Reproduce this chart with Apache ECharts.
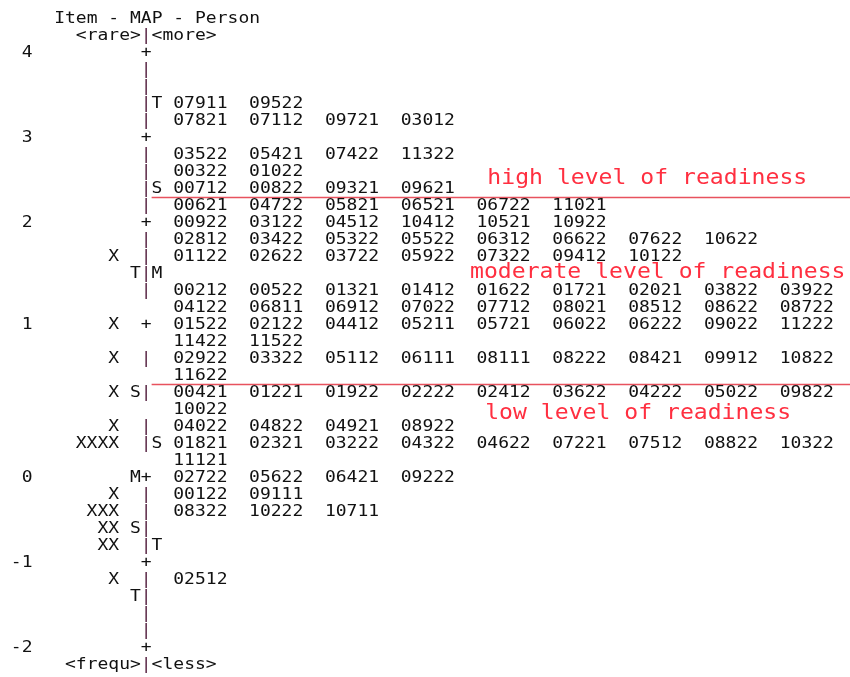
<!DOCTYPE html>
<html><head><meta charset="utf-8">
<script src="https://cdn.jsdelivr.net/npm/echarts@6/dist/echarts.min.js"></script>
<style>html,body{margin:0;padding:0;background:#fff}#c{width:850px;height:677px}</style>
</head><body><div id="c"></div>
<script>
// One entry per map row (row 0 = measure 4 ... row 35 = measure -2)
const measureLabels = ['4','','','','','3','','','','','2','','','','','','1','','','','','','','','','0','','','','','-1','','','','','-2'];
const persons = ['','','','','','','','','','','','','X','','','','X','','X','','X','','X','XXXX','','','X','XXX','XX','XX','','X','','','',''];
const personMarks = ['','','','','','','','','','','','','','T','','','','','','','S','','','','','M','','','S','','','','T','','',''];
const bars = ['+','|','|','|','|','+','|','|','|','|','+','|','|','|','|','','+','','|','','|','','|','|','','+','|','|','|','|','+','|','|','|','|','+'];
const itemMarks = ['','','','T','','','','','S','','','','','M','','','','','','','','','','S','','','','','','T','','','','','',''];
const items = [
  [],[],[],
  ['07911','09522'],
  ['07821','07112','09721','03012'],
  [],
  ['03522','05421','07422','11322'],
  ['00322','01022'],
  ['00712','00822','09321','09621'],
  ['00621','04722','05821','06521','06722','11021'],
  ['00922','03122','04512','10412','10521','10922'],
  ['02812','03422','05322','05522','06312','06622','07622','10622'],
  ['01122','02622','03722','05922','07322','09412','10122'],
  [],
  ['00212','00522','01321','01412','01622','01721','02021','03822','03922'],
  ['04122','06811','06912','07022','07712','08021','08512','08622','08722'],
  ['01522','02122','04412','05211','05721','06022','06222','09022','11222'],
  ['11422','11522'],
  ['02922','03322','05112','06111','08111','08222','08421','09912','10822'],
  ['11622'],
  ['00421','01221','01922','02222','02412','03622','04222','05022','09822'],
  ['10022'],
  ['04022','04822','04921','08922'],
  ['01821','02321','03222','04322','04622','07221','07512','08822','10322'],
  ['11121'],
  ['02722','05622','06421','09222'],
  ['00122','09111'],
  ['08322','10222','10711'],
  [],[],[],
  ['02512'],
  [],[],[],[]
];
const headerTitle = 'Item - MAP - Person';
const headerTop = ['<rare>','|','<more>'];
const headerBottom = ['<frequ>','|','<less>'];
const bandLabels = ['high level of readiness','moderate level of readiness','low level of readiness'];
const bandLabelRows = [7.35, 12.9, 21.2];
const bandBoundaryRows = [8.5, 19.5];

// layout (character columns)
const CHAR = 10.83;
const COLS = 850 / CHAR;
const C = {measureEnd:3, personEnd:11, personMark:12, bar:13, itemMark:14, itemStart:16, itemStep:7};
const bandLabelCols = [45, 43.4, 44.8];

const tokens = [];
function add(col,row,text,kind,align){ if(text) tokens.push({col,row,text,kind,align:align||'left'}); }
add(5,-2,headerTitle,'plain');
add(7,-1,headerTop[0],'plain'); add(13,-1,headerTop[1],'bar'); add(14,-1,headerTop[2],'plain');
add(6,36,headerBottom[0],'plain'); add(13,36,headerBottom[1],'bar'); add(14,36,headerBottom[2],'plain');
for(let r=0;r<bars.length;r++){
  add(C.measureEnd,r,measureLabels[r],'plain','right');
  add(C.personEnd,r,persons[r],'plain','right');
  add(C.personMark,r,personMarks[r],'plain');
  add(C.bar,r,bars[r],bars[r]==='|'?'bar':'plain');
  add(C.itemMark,r,itemMarks[r],'plain');
  items[r].forEach((it,i)=>add(C.itemStart+i*C.itemStep,r,it,'plain'));
}
bandLabels.forEach((t,i)=>add(bandLabelCols[i],bandLabelRows[i],t,'band'));

const styles = {
  plain:{font:'15px "DejaVu Sans Mono"', fill:'#111111', sx:1.2},
  bar:{font:'15px "DejaVu Sans Mono"', fill:'#5c2a48', sx:1.2},
  band:{font:'22px "DejaVu Sans Mono"', fill:'#ff2f40', sx:1.05}
};

const chart = echarts.init(document.getElementById('c'), null, {renderer:'canvas'});
chart.setOption({
  animation:false,
  backgroundColor:'#fff',
  grid:{left:0,right:0,top:19,height:646},
  xAxis:{type:'value',min:0,max:COLS,show:false,splitLine:{show:false}},
  yAxis:{type:'value',min:-2,max:36,inverse:true,show:false,splitLine:{show:false}},
  series:[
    {
      type:'custom',
      data: bandBoundaryRows.map(r=>[C.itemMark, r]),
      renderItem:function(params, api){
        const p1 = api.coord([api.value(0), api.value(1)]);
        const p2 = api.coord([COLS, api.value(1)]);
        return {type:'line', shape:{x1:p1[0],y1:p1[1],x2:p2[0],y2:p2[1]}, style:{stroke:'#e8525e', lineWidth:1.6}};
      }
    },
    {
      type:'custom',
      data: tokens.map(t=>[t.col,t.row]),
      renderItem:function(params, api){
        const t = tokens[params.dataIndex];
        const s = styles[t.kind];
        const p = api.coord([api.value(0), api.value(1)]);
        return {type:'text', x:p[0], y:p[1], scaleX:s.sx, style:{text:t.text, font:s.font, fill:s.fill, align:t.align, verticalAlign:'middle'}};
      }
    }
  ]
});
</script></body></html>
